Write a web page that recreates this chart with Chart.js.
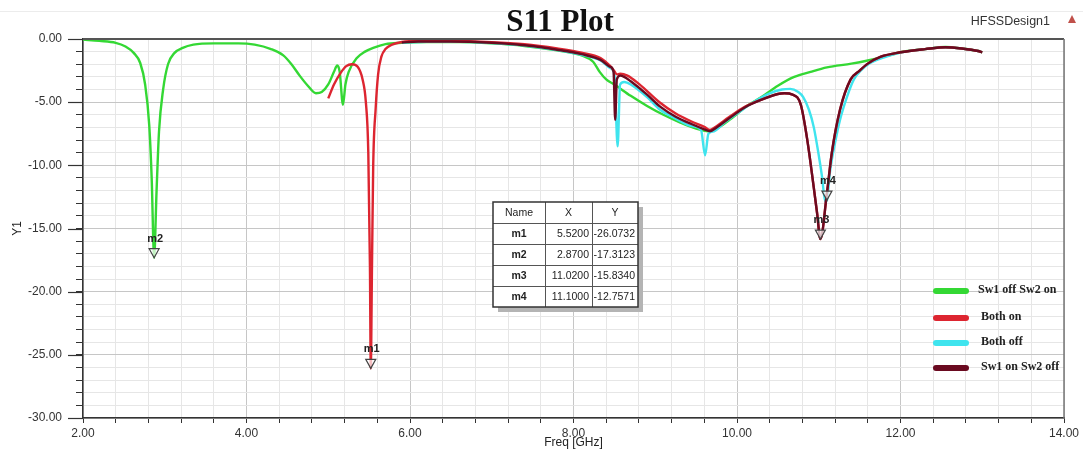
<!DOCTYPE html>
<html>
<head>
<meta charset="utf-8">
<title>S11 Plot</title>
<script src="https://cdn.jsdelivr.net/npm/chart.js@4.4.0/dist/chart.umd.min.js"></script>
<style>
  html, body { margin: 0; padding: 0; background: #fff; }
  #wrap { width: 1083px; height: 450px; }
</style>
</head>
<body>
<div id="wrap"><canvas id="s11-chart" width="1083" height="450"></canvas></div>
<script>
// S11 curves: frequency in GHz, return loss in dB
const greenFreq = [2.00, 2.20, 2.40, 2.52, 2.62, 2.70, 2.76, 2.81, 2.84, 2.87, 2.90, 2.93, 2.98, 3.04, 3.12, 3.22, 3.35, 3.60, 3.90, 4.10, 4.30, 4.45, 4.55, 4.65, 4.75, 4.85, 4.92, 5.00, 5.07, 5.11, 5.14, 5.18, 5.21, 5.25, 5.35, 5.45, 5.55, 5.70, 5.90, 6.20, 6.60, 7.00, 7.40, 7.80, 8.10, 8.24, 8.32, 8.40, 8.50, 8.70, 8.90, 9.10, 9.30, 9.50, 9.65, 9.80, 9.95, 10.10, 10.30, 10.50, 10.70, 10.90, 11.10, 11.40, 11.60, 11.80, 12.00, 12.30, 12.55, 12.75, 12.95, 13.00];
const greenDb = [-0.05, -0.15, -0.3, -0.6, -1.1, -1.9, -3.6, -6.8, -11.0, -17.31, -12.0, -7.3, -4.0, -2.0, -1.1, -0.7, -0.45, -0.35, -0.35, -0.45, -0.8, -1.3, -2.0, -2.9, -3.7, -4.3, -4.2, -3.6, -2.6, -2.1, -2.6, -5.2, -3.6, -2.6, -1.5, -1.0, -0.7, -0.4, -0.3, -0.25, -0.25, -0.35, -0.55, -0.9, -1.3, -1.8, -2.6, -3.2, -3.6, -4.5, -5.3, -6.0, -6.6, -7.1, -7.3, -6.9, -6.2, -5.4, -4.6, -3.7, -3.0, -2.6, -2.25, -1.95, -1.7, -1.4, -1.05, -0.8, -0.63, -0.75, -0.95, -1.05];

const redFreq = [5.00, 5.07, 5.15, 5.22, 5.29, 5.36, 5.42, 5.46, 5.49, 5.51, 5.52, 5.535, 5.55, 5.58, 5.61, 5.65, 5.70, 5.78, 5.90, 6.10, 6.50, 7.00, 7.40, 7.80, 8.10, 8.33, 8.45, 8.50, 8.53, 8.57, 8.66, 8.80, 9.06, 9.25, 9.45, 9.60, 9.67, 9.75, 9.90, 10.10, 10.30, 10.50, 10.58, 10.68, 10.78, 10.86, 10.94, 10.98, 11.02, 11.10, 11.16, 11.26, 11.39, 11.50, 11.60, 11.76, 12.00, 12.30, 12.55, 12.75, 12.95, 13.00];
const redDb = [-4.7, -3.6, -2.7, -2.15, -2.0, -2.2, -3.2, -5.0, -9.0, -18.0, -26.07, -18.0, -10.0, -5.5, -2.8, -1.4, -0.8, -0.45, -0.24, -0.16, -0.16, -0.25, -0.42, -0.75, -1.08, -1.5, -2.15, -2.55, -2.8, -2.75, -2.9, -3.55, -5.05, -5.9, -6.55, -6.95, -7.2, -6.9, -6.2, -5.35, -4.8, -4.35, -4.3, -4.4, -5.2, -8.0, -11.8, -13.8, -15.83, -12.2, -9.0, -5.6, -3.2, -2.5, -1.95, -1.4, -1.05, -0.8, -0.65, -0.75, -0.95, -1.05];

const cyanFreq = [5.90, 6.20, 6.60, 7.00, 7.40, 7.80, 8.10, 8.33, 8.45, 8.50, 8.54, 8.57, 8.62, 8.70, 8.90, 9.06, 9.25, 9.45, 9.56, 9.61, 9.65, 9.72, 9.85, 10.00, 10.20, 10.40, 10.55, 10.65, 10.75, 10.81, 10.88, 10.94, 11.00, 11.04, 11.08, 11.10, 11.14, 11.20, 11.26, 11.35, 11.43, 11.53, 11.63, 11.80, 12.00, 12.30, 12.55, 12.75, 12.95, 13.00];
const cyanDb = [-0.3, -0.22, -0.22, -0.32, -0.52, -0.88, -1.25, -1.7, -2.3, -2.8, -8.5, -3.6, -3.4, -3.6, -4.6, -5.6, -6.3, -6.9, -7.2, -9.2, -7.5, -7.3, -6.6, -5.9, -5.0, -4.3, -4.0, -3.95, -4.2, -4.6, -5.6, -7.0, -9.2, -10.9, -12.9, -12.76, -10.4, -8.2, -6.4, -4.5, -3.2, -2.4, -1.9, -1.45, -1.08, -0.8, -0.65, -0.75, -0.95, -1.05];

const darkFreq = [5.90, 6.10, 6.50, 7.00, 7.40, 7.80, 8.10, 8.33, 8.45, 8.49, 8.51, 8.53, 8.57, 8.62, 8.70, 8.90, 9.06, 9.25, 9.45, 9.60, 9.67, 9.75, 9.90, 10.10, 10.30, 10.50, 10.58, 10.68, 10.78, 10.86, 10.94, 10.98, 11.02, 11.10, 11.16, 11.26, 11.39, 11.50, 11.60, 11.76, 12.00, 12.30, 12.55, 12.75, 12.95, 13.00];
const darkDb = [-0.28, -0.2, -0.2, -0.3, -0.5, -0.85, -1.2, -1.65, -2.2, -2.6, -6.4, -3.2, -2.9, -3.0, -3.35, -4.4, -5.35, -6.15, -6.75, -7.15, -7.3, -7.0, -6.3, -5.4, -4.8, -4.35, -4.3, -4.4, -5.2, -8.0, -11.8, -13.8, -15.83, -12.2, -9.0, -5.6, -3.2, -2.5, -1.95, -1.4, -1.05, -0.8, -0.65, -0.75, -0.95, -1.05];

const seriesNames = ['Sw1 off Sw2 on', 'Both on', 'Both off', 'Sw1 on Sw2 off'];
const seriesColors = ['#34d834', '#dd2530', '#3fe4ee', '#6a0a20'];

// marker table
const markerNames = ['m1', 'm2', 'm3', 'm4'];
const markerFreq = [5.52, 2.87, 11.02, 11.10];
const markerDb = [-26.0732, -17.3123, -15.8340, -12.7571];

// axes
const xMin = 2, xMax = 14, xMajor = 2, xMinor = 0.4;
const yMin = -30, yMax = 0, yMajor = 5, yMinor = 1;

const isMultiple = (v, step) => Math.abs(v / step - Math.round(v / step)) < 1e-6;

const toPoints = (xs, ys) => xs.map((x, i) => ({ x: x, y: ys[i] }));

// Draws the frame, markers, marker table, legend and header texts
const overlayPlugin = {
  id: 'hfssOverlay',
  afterDatasetsDraw(chart) {
    const ctx = chart.ctx;
    const area = chart.chartArea;
    const xs = chart.scales.x;
    const ys = chart.scales.y;
    ctx.save();

    // top / right frame
    ctx.strokeStyle = '#555';
    ctx.lineWidth = 2;
    ctx.beginPath();
    ctx.moveTo(area.left, area.top);
    ctx.lineTo(area.right, area.top);
    ctx.stroke();
    ctx.strokeStyle = '#777';
    ctx.lineWidth = 1.5;
    ctx.beginPath();
    ctx.moveTo(area.right, area.top);
    ctx.lineTo(area.right, area.bottom);
    ctx.stroke();

    // longer ticks on major y values
    ctx.strokeStyle = '#333';
    ctx.lineWidth = 1.2;
    for (let v = yMin; v <= yMax; v += yMajor) {
      const py = Math.round(ys.getPixelForValue(v)) + 0.5;
      ctx.beginPath();
      ctx.moveTo(area.left - 15, py);
      ctx.lineTo(area.left, py);
      ctx.stroke();
    }

    // markers
    markerNames.forEach((name, i) => {
      const px = xs.getPixelForValue(markerFreq[i]);
      const py = ys.getPixelForValue(markerDb[i]);
      ctx.beginPath();
      ctx.moveTo(px, py);
      ctx.lineTo(px - 5, py - 9);
      ctx.lineTo(px + 5, py - 9);
      ctx.closePath();
      ctx.fillStyle = 'rgba(255,255,255,0.7)';
      ctx.fill();
      ctx.strokeStyle = '#444';
      ctx.lineWidth = 1.2;
      ctx.stroke();
      ctx.fillStyle = '#222';
      ctx.font = 'bold 11px "Liberation Sans", Arial, sans-serif';
      ctx.textAlign = 'center';
      ctx.textBaseline = 'middle';
      ctx.fillText(name, px + 1, py - 19);
    });

    // marker table
    const tx = 493, ty = 202, colW = [52, 47, 46], rowH = 21;
    const tw = colW[0] + colW[1] + colW[2];
    const th = rowH * (markerNames.length + 1);
    ctx.fillStyle = '#b4b4b4';
    ctx.fillRect(tx + 5, ty + 5, tw, th);
    ctx.fillStyle = '#fff';
    ctx.fillRect(tx, ty, tw, th);
    ctx.strokeStyle = '#555';
    ctx.lineWidth = 1;
    for (let r = 1; r <= markerNames.length; r++) {
      ctx.beginPath();
      ctx.moveTo(tx, ty + r * rowH + 0.5);
      ctx.lineTo(tx + tw, ty + r * rowH + 0.5);
      ctx.stroke();
    }
    let cx = tx;
    for (let c = 0; c < 2; c++) {
      cx += colW[c];
      ctx.beginPath();
      ctx.moveTo(cx + 0.5, ty);
      ctx.lineTo(cx + 0.5, ty + th);
      ctx.stroke();
    }
    ctx.strokeStyle = '#333';
    ctx.lineWidth = 1.5;
    ctx.strokeRect(tx, ty, tw, th);

    ctx.fillStyle = '#222';
    ctx.textBaseline = 'middle';
    ctx.font = '10.5px "Liberation Sans", Arial, sans-serif';
    ctx.textAlign = 'center';
    ['Name', 'X', 'Y'].forEach((h, c) => {
      const left = tx + colW.slice(0, c).reduce((a, b) => a + b, 0);
      ctx.fillText(h, left + colW[c] / 2, ty + rowH / 2 + 1);
    });
    markerNames.forEach((name, i) => {
      const rowY = ty + (i + 1) * rowH + rowH / 2 + 1;
      ctx.font = 'bold 10.5px "Liberation Sans", Arial, sans-serif';
      ctx.textAlign = 'center';
      ctx.fillText(name, tx + colW[0] / 2, rowY);
      ctx.font = '10.5px "Liberation Sans", Arial, sans-serif';
      ctx.textAlign = 'right';
      ctx.fillText(markerFreq[i].toFixed(4), tx + colW[0] + colW[1] - 3, rowY);
      ctx.fillText(markerDb[i].toFixed(4), tx + tw - 3, rowY);
    });

    // legend
    const legendY = [291, 318, 343, 368];
    seriesNames.forEach((name, i) => {
      ctx.strokeStyle = seriesColors[i];
      ctx.lineWidth = 6;
      ctx.lineCap = 'round';
      ctx.beginPath();
      ctx.moveTo(936, legendY[i]);
      ctx.lineTo(966, legendY[i]);
      ctx.stroke();
      ctx.fillStyle = '#222';
      ctx.font = 'bold 12px "Liberation Serif", "Times New Roman", serif';
      ctx.textAlign = 'left';
      ctx.fillText(name, i === 0 ? 978 : 981, legendY[i] - 1);
    });
    ctx.lineCap = 'butt';

    // header
    ctx.strokeStyle = '#ececec';
    ctx.lineWidth = 1;
    ctx.beginPath();
    ctx.moveTo(0, 11.5);
    ctx.lineTo(chart.width, 11.5);
    ctx.stroke();

    ctx.fillStyle = '#111';
    ctx.font = 'bold 31px "Liberation Serif", "Times New Roman", serif';
    ctx.textAlign = 'center';
    ctx.textBaseline = 'middle';
    ctx.fillText('S11 Plot', 560, 23);

    ctx.fillStyle = '#333';
    ctx.font = '12.5px "Liberation Sans", Arial, sans-serif';
    ctx.textAlign = 'right';
    ctx.fillText('HFSSDesign1', 1050, 22);

    ctx.fillStyle = '#c0504a';
    ctx.beginPath();
    ctx.moveTo(1072, 15);
    ctx.lineTo(1076, 23);
    ctx.lineTo(1068, 23);
    ctx.closePath();
    ctx.fill();

    ctx.restore();
  }
};

const lineSet = (i, xs, ys, order) => ({
  label: seriesNames[i],
  data: toPoints(xs, ys),
  borderColor: seriesColors[i],
  backgroundColor: seriesColors[i],
  borderWidth: 2.4,
  pointRadius: 0,
  cubicInterpolationMode: 'monotone',
  fill: false,
  order: order
});

const ctx = document.getElementById('s11-chart').getContext('2d');
const chart = new Chart(ctx, {
  type: 'line',
  data: {
    datasets: [
      lineSet(0, greenFreq, greenDb, 3),
      lineSet(1, redFreq, redDb, 1),
      lineSet(2, cyanFreq, cyanDb, 2),
      lineSet(3, darkFreq, darkDb, 0)
    ]
  },
  options: {
    responsive: false,
    animation: false,
    events: [],
    layout: { padding: { top: 39, right: 19, left: 0, bottom: 0 } },
    plugins: {
      legend: { display: false },
      tooltip: { enabled: false },
      title: { display: false }
    },
    scales: {
      x: {
        type: 'linear',
        min: xMin,
        max: xMax,
        afterFit: (scale) => { scale.height = 32; },
        ticks: {
          stepSize: xMinor,
          maxTicksLimit: 100,
          autoSkip: false,
          maxRotation: 0,
          padding: 3,
          color: '#333',
          font: { family: '"Liberation Sans", Arial, sans-serif', size: 12 },
          callback: (v) => isMultiple(v, xMajor) ? v.toFixed(2) : ''
        },
        grid: {
          color: (c) => isMultiple(c.tick.value, xMajor) ? '#c6c6c6' : '#e6e6e6',
          tickColor: '#333',
          tickLength: 5,
          lineWidth: 1
        },
        border: { color: '#333', width: 1.5 },
        title: {
          display: true,
          text: 'Freq [GHz]',
          color: '#222',
          font: { family: '"Liberation Sans", Arial, sans-serif', size: 12 },
          padding: { top: 0, bottom: 0 }
        }
      },
      y: {
        type: 'linear',
        min: yMin,
        max: yMax,
        afterFit: (scale) => { scale.width = 83; },
        ticks: {
          stepSize: yMinor,
          maxTicksLimit: 100,
          autoSkip: false,
          padding: 14,
          color: '#333',
          font: { family: '"Liberation Sans", Arial, sans-serif', size: 12 },
          callback: (v) => isMultiple(v, yMajor) ? v.toFixed(2) : ''
        },
        grid: {
          color: (c) => isMultiple(c.tick.value, yMajor) ? '#c6c6c6' : '#e6e6e6',
          tickColor: '#333',
          tickLength: 7,
          lineWidth: 1
        },
        border: { color: '#333', width: 1.5 },
        title: {
          display: true,
          text: 'Y1',
          color: '#222',
          font: { family: '"Liberation Sans", Arial, sans-serif', size: 12 },
          padding: { top: 10, bottom: 0 }
        }
      }
    }
  },
  plugins: [overlayPlugin]
});
</script>
</body>
</html>
